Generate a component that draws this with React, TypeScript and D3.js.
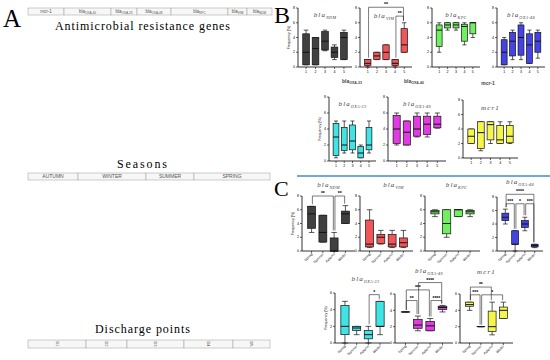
import React from 'react';
import * as d3 from 'd3';

// categories
const points = ['1', '2', '3', '4', '5'];
const seasons = ['Spring', 'Summer', 'Autumn', 'Winter'];

// left panel cells
const genes = [['mcr-1', ''], ['bla', 'OXA-40'], ['bla', 'OXA-23'], ['bla', 'OXA-48'], ['bla', 'KPC'], ['bla', 'VIM'], ['bla', 'NDM']];
const seasonCells = [['AUTUMN', ''], ['WINTER', ''], ['SUMMER', ''], ['SPRING', '']];
const dischargeCells = ['D1', 'D2', 'D3', 'D4', 'D5'];

// box stats per group: [min, q1, median, q3, max]  (panel B, by discharge point)
const ndmPoints = [[0.3, 0.3, 2, 4.5, 5], [0.3, 0.3, 2.5, 4, 4], [2.2, 2.3, 3.5, 4.8, 5], [1, 1.3, 2, 2.7, 3], [1, 1, 4, 4.7, 5]];
const vimPoints = [[0, 0.2, 0.5, 1, 1], [1, 1, 1.5, 2, 2], [1, 1, 2, 3, 3], [0, 0.2, 0.5, 1, 1], [2, 2, 3, 5.2, 6]];
const kpcPoints = [[2, 2.8, 5, 5.7, 6], [5, 5.3, 5.7, 6, 6], [5, 5.3, 5.7, 6, 6], [3, 3.5, 5.5, 5.8, 6], [4, 4.5, 6, 6, 6]];
const oxa48Points = [[0.3, 0.3, 2, 3.7, 4], [1, 1.5, 3.5, 4.7, 5], [1, 1.6, 4, 5.7, 6], [0.5, 0.5, 3, 4.5, 5], [1.2, 2, 3.5, 4.7, 5]];
const oxa23Points = [[0.4, 0.7, 3, 4.7, 5], [1, 1.3, 2, 4.2, 5], [1, 1.4, 2.5, 4.5, 5], [0.4, 0.4, 1, 1.8, 2], [1, 1.4, 2, 4.2, 5]];
const oxa40Points = [[2, 2.2, 4, 5.7, 6], [2, 2, 3.6, 5, 5], [3, 3.1, 4, 5.6, 6], [3, 3.3, 4.6, 5.6, 6], [4.1, 4.15, 4.6, 5.6, 6]];
const mcrPoints = [[2, 2, 3, 4, 4], [1, 1.3, 3.5, 5, 5], [2, 2.5, 4.6, 5, 5], [2, 2, 2.5, 4.5, 5], [2, 2.1, 3, 4.5, 5]];

// panel C, by season
const ndmSeasons = [[2.7, 3.3, 5.4, 6.5, 6.5], [1.3, 1.3, 2.7, 5.2, 5.2], [0, 0, 0, 1.9, 2.7], [4, 4, 5.4, 5.8, 6.6]];
const vimSeasons = [[0.5, 0.6, 1, 4.5, 6], [1, 1.1, 2, 2.4, 3], [0.5, 0.6, 1, 2.4, 3], [0.5, 0.6, 1.2, 1.9, 3]];
const kpcSeasons = [[5, 5.4, 5.7, 5.9, 6], [2, 2.5, 4, 6, 6], [5, 5, 6, 6, 6], [5, 5.4, 5.7, 5.9, 6]];
const oxa48Seasons = [[4, 4.5, 5, 5.6, 6.2], [0, 1, 1, 3, 3], [3, 3.5, 4, 4.5, 5], [0.5, 0.6, 0.8, 1, 1]];
const oxa23Seasons = [[0, 1, 2, 4.5, 5], [1, 1.5, 1.8, 2, 2], [0, 0.5, 1, 1.5, 2], [1, 2, 2, 5, 5]];
const oxa40Seasons = [[3.8, 3.8, 3.8, 3.8, 3.8], [1.5, 1.8, 2.2, 2.9, 3.3], [1.5, 1.5, 2.1, 2.65, 3], [3.8, 4.1, 4.35, 4.5, 4.6]];
const mcrSeasons = [[4, 4.5, 4.7, 5, 5], [2, 2, 2, 2, 2], [1, 1.4, 2, 3.9, 5], [3, 3, 4, 4.4, 5]];

// significance brackets: [from group, to group, level, label]
const vimPointSig = [[0, 4, 8.1, '**'], [3, 4, 6.9, '**']];
const ndmSeasonSig = [[0, 2, 8, '**'], [2, 3, 8, '**']];
const oxa48SeasonSig = [[0, 3, 8.4, '****'], [0, 1, 7, '***'], [1, 2, 7, '*'], [2, 3, 7, '***']];
const oxa23SeasonSig = [[2, 3, 5.8, '*']];
const oxa40SeasonSig = [[1, 3, 7.4, '****'], [0, 2, 6.5, '***'], [0, 1, 5.2, '**'], [2, 3, 5.2, '****']];
const mcrSeasonSig = [[0, 2, 6.85, '**'], [0, 1, 5.9, '***'], [1, 3, 5.9, '*']];

function Cells({ edges, y, h, labels, fs = 4.5 }) {
  return (
    <g>
      {labels.map((l, i) => {
        const cx = (edges[i] + edges[i + 1]) / 2;
        return (
          <g key={i}>
            <rect x={edges[i]} y={y} width={edges[i + 1] - edges[i]} height={h} fill="#f7f7f7" stroke="#9a9a9a" strokeWidth={0.5} />
            <text x={cx} y={y + h / 2 + fs * 0.35} fontSize={fs} fill="#555" textAnchor="middle">
              {l[0]}
              {l[1] && <tspan fontSize={fs * 0.7} dy={1}>{l[1]}</tspan>}
            </text>
          </g>
        );
      })}
    </g>
  );
}

function Title({ x, y, base, sub, size = 7 }) {
  return (
    <text x={x} y={y} textAnchor="middle" fontFamily="Liberation Serif" fontStyle="italic" fontSize={size} letterSpacing={1.1} fill="#444">
      {base}
      {sub && <tspan fontSize={size * 0.6} dy={1.5} letterSpacing={0.3}>{sub}</tspan>}
    </text>
  );
}

function BoxChart({ stats, cats, color, x0, x1, yTop, yBot, yMax, title, sub = '', titleY, titleDx = 0, ylabel = false, rotate = false, sig = [] }) {
  const x = d3.scaleBand().domain(cats).range([x0, x1]).paddingInner(0.3).paddingOuter(0.5);
  const y = d3.scaleLinear().domain([0, yMax]).range([yBot, yTop]);
  const ticks = d3.range(0, yMax + 1, 2);
  const bw = x.bandwidth();
  const cx = (i) => (x(cats[i]) as number) + bw / 2;
  const cap = bw * 0.35;
  return (
    <g>
      {/* axes */}
      <line x1={x0} x2={x0} y1={y(yMax)} y2={y(0)} stroke="#000" strokeWidth={0.8} />
      <line x1={x0} x2={x1} y1={y(0)} y2={y(0)} stroke="#000" strokeWidth={0.8} />
      {ticks.map((t) => (
        <g key={t}>
          <line x1={x0 - 2} x2={x0} y1={y(t)} y2={y(t)} stroke="#000" strokeWidth={0.6} />
          <text x={x0 - 3} y={y(t) + 1.2} fontSize={3.6} textAnchor="end">{t}</text>
        </g>
      ))}
      {cats.map((c, i) => (
        <g key={c}>
          <line x1={cx(i)} x2={cx(i)} y1={y(0)} y2={y(0) + 2} stroke="#000" strokeWidth={0.6} />
          {rotate ? (
            <text transform={`translate(${cx(i) + 1},${y(0) + 3.5}) rotate(-45)`} fontSize={3.4} textAnchor="end">{c}</text>
          ) : (
            <text x={cx(i)} y={y(0) + 5.5} fontSize={3.6} textAnchor="middle">{c}</text>
          )}
        </g>
      ))}
      {ylabel && (
        <text transform={`translate(${x0 - 8},${(y(0) + y(yMax)) / 2}) rotate(-90)`} fontSize={3.6} textAnchor="middle">Frequency (%)</text>
      )}
      {/* boxes */}
      {stats.map((s, i) => {
        const [mn, q1, md, q3, mx] = s;
        const c = cx(i);
        return (
          <g key={i} stroke="#111" strokeWidth={0.7}>
            <line x1={c} x2={c} y1={y(mx)} y2={y(q3)} />
            <line x1={c} x2={c} y1={y(q1)} y2={y(mn)} />
            <line x1={c - cap} x2={c + cap} y1={y(mx)} y2={y(mx)} />
            <line x1={c - cap} x2={c + cap} y1={y(mn)} y2={y(mn)} />
            <rect x={c - bw / 2} y={y(q3)} width={bw} height={Math.max(y(q1) - y(q3), 0.01)} fill={color} />
            <line x1={c - bw / 2} x2={c + bw / 2} y1={y(md)} y2={y(md)} strokeWidth={1} />
          </g>
        );
      })}
      {/* significance */}
      {sig.map(([a, b, lvl, lab], k) => {
        const yy = y(lvl);
        const xa = cx(a) + 0.8;
        const xb = cx(b) - 0.8;
        return (
          <g key={k}>
            <path
              d={`M${xa},${y(stats[a][4]) - 2}V${yy}H${xb}V${y(stats[b][4]) - 2}`}
              fill="none"
              stroke="#222"
              strokeWidth={0.6}
            />
            <text x={(xa + xb) / 2} y={yy - 1} fontSize={5} fontWeight="bold" textAnchor="middle">{lab}</text>
          </g>
        );
      })}
      <Title x={(x0 + x1) / 2 + titleDx} y={titleY} base={title} sub={sub} />
    </g>
  );
}

export default function App() {
  return (
    <svg width={550} height={360} style={{ position: 'absolute', left: 0, top: 0, background: '#fff' }} fontFamily="Liberation Sans">
      <rect width={550} height={360} fill="#fff" />
      {/* panel A */}
      <text x={3} y={27} fontSize={25} fontFamily="Liberation Serif">A</text>
      <Cells edges={[28, 64, 111, 137, 171, 228, 247, 272]} y={8} h={7} labels={genes} />
      <text x={55} y={30} fontSize={12} fontFamily="Liberation Serif" textLength={175} lengthAdjust="spacing">Antimicrobial resistance genes</text>
      <text x={117} y={168} fontSize={12} fontFamily="Liberation Serif" textLength={50} lengthAdjust="spacing">Seasons</text>
      <Cells edges={[28, 78, 146, 194, 270]} y={173} h={7} labels={seasonCells} fs={5} />
      <text x={95} y={333} fontSize={12} fontFamily="Liberation Serif" textLength={95} lengthAdjust="spacing">Discharge points</text>
      <g>
        {dischargeCells.map((d, i) => {
          const e = [28, 86, 127, 184, 233, 270];
          const cx = (e[i] + e[i + 1]) / 2;
          return (
            <g key={d}>
              <rect x={e[i]} y={340} width={e[i + 1] - e[i]} height={8} fill="#f7f7f7" stroke="#9a9a9a" strokeWidth={0.5} />
              <text transform={`translate(${cx - 1.2},344) rotate(90)`} fontSize={3.8} fill="#555" textAnchor="middle">{d}</text>
            </g>
          );
        })}
      </g>

      {/* panel B */}
      <text x={274} y={23} fontSize={24} fontFamily="Liberation Serif">B</text>
      <BoxChart stats={ndmPoints} cats={points} color="#404040" x0={298} x1={352} yTop={8} yBot={67} yMax={8} title="bla" sub="NDM" titleY={17} ylabel />
      <BoxChart stats={vimPoints} cats={points} color="#f0555a" x0={360} x1={412} yTop={8} yBot={67} yMax={8} title="bla" sub="VIM" titleY={18} titleDx={-2} sig={vimPointSig} />
      <BoxChart stats={kpcPoints} cats={points} color="#70f060" x0={432} x1={480} yTop={8} yBot={67} yMax={8} title="bla" sub="KPC" titleY={17} />
      <BoxChart stats={oxa48Points} cats={points} color="#4444e6" x0={497} x1={545} yTop={8} yBot={67} yMax={8} title="bla" sub="OXA-48" titleY={17} />
      <g fontSize={5} fontWeight="bold" fill="#444" textAnchor="middle">
        <text x={352} y={83}>bla<tspan fontSize={3.5} dy={1}>OXA-23</tspan></text>
        <text x={414} y={83}>bla<tspan fontSize={3.5} dy={1}>OXA-40</tspan></text>
        <text x={488} y={85}>mcr-1</text>
      </g>
      <BoxChart stats={oxa23Points} cats={points} color="#40e4e4" x0={329} x1={376} yTop={97} yBot={161} yMax={8} title="bla" sub="OXA-23" titleY={106} ylabel />
      <BoxChart stats={oxa40Points} cats={points} color="#e03ce0" x0={388} x1={446} yTop={97} yBot={161} yMax={8} title="bla" sub="OXA-40" titleY={106} />
      <BoxChart stats={mcrPoints} cats={points} color="#f6f64a" x0={463} x1={518} yTop={100} yBot={158} yMax={8} title="mcr1" titleY={110} />

      {/* panel C */}
      <text x={274} y={196} fontSize={22} fontFamily="Liberation Serif">C</text>
      <line x1={297} x2={550} y1={176} y2={176} stroke="#3f8fbf" strokeWidth={1.5} />
      <BoxChart stats={ndmSeasons} cats={seasons} color="#404040" x0={302} x1={355} yTop={196} yBot={251} yMax={8} title="bla" sub="NDM" titleY={187} ylabel rotate sig={ndmSeasonSig} />
      <BoxChart stats={vimSeasons} cats={seasons} color="#f0555a" x0={360} x1={413} yTop={196} yBot={251} yMax={8} title="bla" sub="VIM" titleY={187} titleDx={7} rotate />
      <BoxChart stats={kpcSeasons} cats={seasons} color="#70f060" x0={425} x1={480} yTop={196} yBot={251} yMax={8} title="bla" sub="KPC" titleY={187} titleDx={4} rotate />
      <BoxChart stats={oxa48Seasons} cats={seasons} color="#4444e6" x0={497} x1={543} yTop={197} yBot={251} yMax={8} title="bla" sub="OXA-48" titleY={184} rotate sig={oxa48SeasonSig} />
      <BoxChart stats={oxa23Seasons} cats={seasons} color="#40e4e4" x0={335} x1={390} yTop={293} yBot={343} yMax={6} title="bla" sub="OXA-23" titleY={281} titleDx={3} ylabel rotate sig={oxa23SeasonSig} />
      <BoxChart stats={oxa40Seasons} cats={seasons} color="#e03ce0" x0={395} x1={453} yTop={294} yBot={343} yMax={6} title="bla" sub="OXA-40" titleY={273} titleDx={5} rotate sig={oxa40SeasonSig} />
      <BoxChart stats={mcrSeasons} cats={seasons} color="#f6f64a" x0={460} x1={513} yTop={294} yBot={343} yMax={6} title="mcr1" titleY={274} rotate sig={mcrSeasonSig} />
    </svg>
  );
}
